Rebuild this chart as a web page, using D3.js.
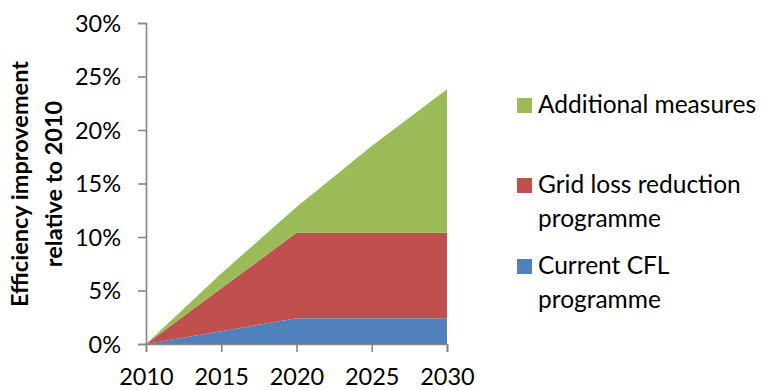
<!DOCTYPE html>
<html>
<head>
<meta charset="utf-8">
<script src="https://cdn.jsdelivr.net/npm/d3@7"></script>
<style>
  html, body { margin: 0; padding: 0; background: #fff; }
  svg { display: block; font-family: Lato, "Open Sans", sans-serif; }
</style>
</head>
<body>
<svg id="chart" width="762" height="390"></svg>
<script>
// Efficiency improvement relative to 2010, by contribution (percent)
const years = [2010, 2015, 2020, 2025, 2030];
const currentCFL = [0, 1.2, 2.4, 2.4, 2.4];
const gridLoss = [0, 4.0, 8.0, 8.0, 8.0];
const additionalMeasures = [0, 1.4, 2.4, 8.1, 13.4];
const yTickValues = [0, 5, 10, 15, 20, 25, 30];
const seriesKeys = ["cfl", "grid", "additional"];
const seriesColors = ["#4F81BD", "#C0504D", "#9BBB59"];
const legendLabels = [
  ["Additional measures"],
  ["Grid loss reduction", "programme"],
  ["Current CFL", "programme"]
];
const legendColors = ["#9BBB59", "#C0504D", "#4F81BD"];
const titleLines = ["Efficiency improvement", "relative to 2010"];

const rows = years.map((y, i) => ({
  year: y,
  cfl: currentCFL[i],
  grid: gridLoss[i],
  additional: additionalMeasures[i]
}));

const svg = d3.select("#chart");
const axisColor = "#868686";
const tickFont = 23.5;

const x = d3.scaleLinear().domain([2010, 2030]).range([146, 447]);
const y = d3.scaleLinear().domain([0, 30]).range([344, 23]);

const stacked = d3.stack().keys(seriesKeys)(rows);

const area = d3.area()
  .x(d => x(d.data.year))
  .y0(d => y(d[0]))
  .y1(d => y(d[1]));

svg.append("g")
  .selectAll("path")
  .data(stacked)
  .join("path")
  .attr("d", area)
  .attr("fill", (d, i) => seriesColors[i]);

// Value axis
const yAxis = svg.append("g")
  .attr("transform", `translate(${x.range()[0]},0)`)
  .call(d3.axisLeft(y).tickValues(yTickValues).tickSize(8).tickPadding(17)
    .tickFormat(d => d + "%"));
yAxis.selectAll("path, line").attr("stroke", axisColor).attr("stroke-width", 1.6);
yAxis.selectAll("text")
  .attr("fill", "#000")
  .attr("font-size", tickFont)
  .attr("font-family", "Lato, sans-serif")
  .attr("dy", "0.36em");

// Year axis
const xAxis = svg.append("g")
  .attr("transform", `translate(0,${y(0)})`)
  .call(d3.axisBottom(x).tickValues(years).tickSize(8).tickPadding(17)
    .tickFormat(d3.format("d")));
xAxis.selectAll("path, line").attr("stroke", axisColor).attr("stroke-width", 1.6);
xAxis.selectAll("text")
  .attr("fill", "#000")
  .attr("font-size", tickFont)
  .attr("font-family", "Lato, sans-serif")
  .attr("dy", 0)
  .attr("y", 41);

// Axis title
const title = svg.append("text")
  .attr("transform", "translate(28,184) rotate(-90)")
  .attr("text-anchor", "middle")
  .attr("font-size", 23.5)
  .attr("font-weight", "bold")
  .attr("fill", "#000");
title.selectAll("tspan")
  .data(titleLines)
  .join("tspan")
  .attr("x", 0)
  .attr("y", (d, i) => i * 34)
  .text(d => d);

// Legend
const legendRowY = [113, 193, 274];
const legend = svg.append("g");
legendLabels.forEach((lines, i) => {
  const g = legend.append("g").attr("transform", `translate(517,${legendRowY[i]})`);
  g.append("rect")
    .attr("x", 0).attr("y", -15)
    .attr("width", 15).attr("height", 15)
    .attr("fill", legendColors[i]);
  const t = g.append("text")
    .attr("font-size", 24.5)
    .attr("fill", "#000");
  t.selectAll("tspan")
    .data(lines)
    .join("tspan")
    .attr("x", 21)
    .attr("y", (d, j) => j * 33.5)
    .text(d => d);
});
</script>
</body>
</html>
